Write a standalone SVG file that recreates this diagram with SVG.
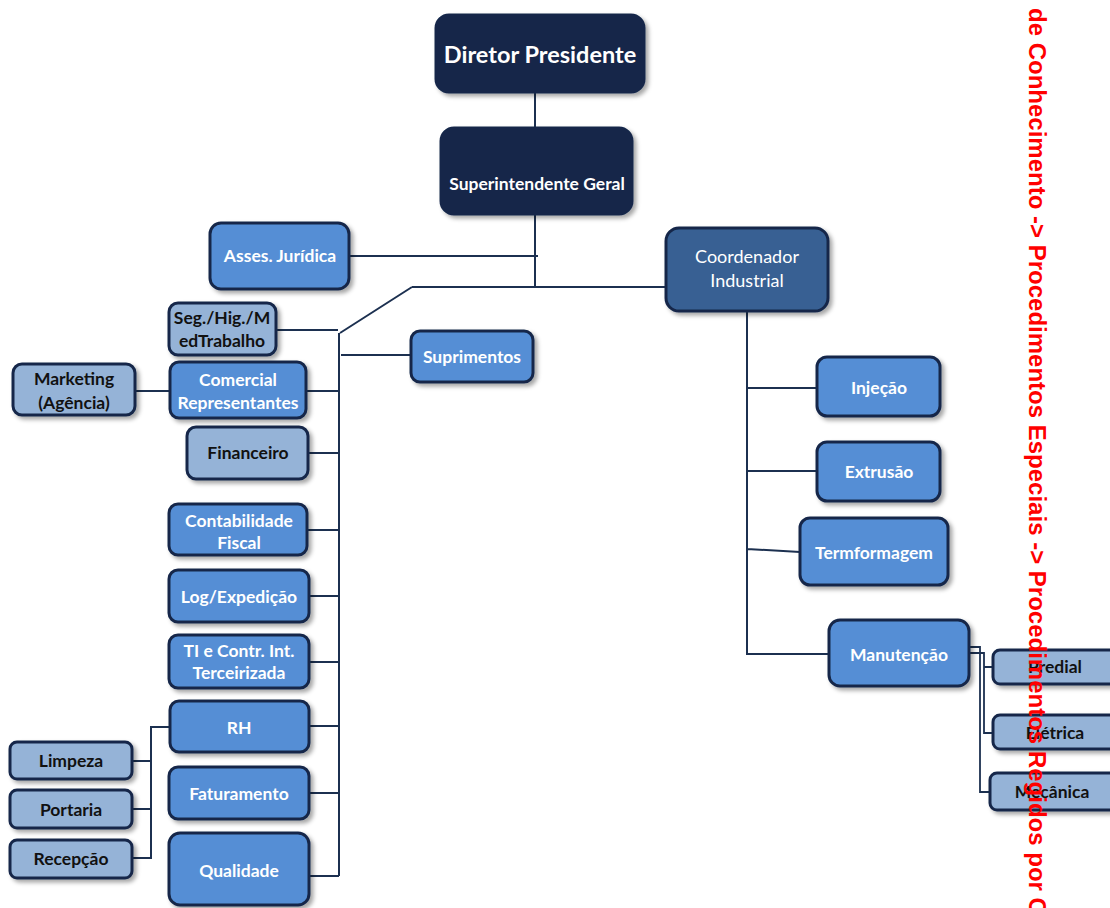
<svg xmlns="http://www.w3.org/2000/svg" width="1110" height="908" viewBox="0 0 1110 908">
<defs>
<filter id="sh" x="-20%" y="-20%" width="140%" height="150%">
<feDropShadow dx="3" dy="3" stdDeviation="2" flood-color="#000" flood-opacity="0.35"/>
</filter>
<style>
.box{stroke:#14284a;stroke-width:3;filter:url(#sh)}
.dark{fill:#14284a;stroke:#14284a}
.coord{fill:#386193}
.mid{fill:#558ed5}
.light{fill:#95b3d7}
text{font-family:Lato,"Open Sans","Liberation Sans",sans-serif;font-weight:bold;text-anchor:middle}
.w{fill:#ffffff}
.k{fill:#111111}
.f15{font-size:17.5px}
.con{fill:none;stroke:#1c3050;stroke-width:2}
.red{font-family:"Liberation Sans",Arial,sans-serif;font-weight:bold;font-size:24px;fill:#ff0000;text-anchor:start}
</style>
</defs>
<rect width="1110" height="908" fill="#ffffff"/>

<g id="connectors">
<path class="con" d="M535 92V128M535 214V287M349 256H538M412 287H666M412 287L340 333M339 333V876"/>
<path class="con" d="M276 330H338M341 355H411M306 391H339M135 391H170M308 453H339M307 530H339M309 596H339M309 662H339M309 726H339M309 793H339M309 876H339"/>
<path class="con" d="M170 727H151V858H132M132 761H151M132 809H151"/>
<path class="con" d="M747 311V654H829M747 388H817M747 471H817M747 549L800 552"/>
<path class="con" d="M969 647H980V792H990M969 653H984V733H993M984 667H993" style="stroke-width:1.8"/>
</g>

<g id="diretor"><rect class="box dark" x="436" y="15" width="208" height="77" rx="13"/><text class="w" x="540" y="63" style="font-size:23.5px">Diretor Presidente</text></g>
<g id="superintendente"><rect class="box dark" x="441" y="128" width="191" height="86" rx="13"/><text class="w" x="537" y="190" style="font-size:17.5px">Superintendente Geral</text></g>
<g id="assesjuridica"><rect class="box mid" x="210" y="223" width="139" height="66" rx="11"/><text class="w f15" x="280" y="262">Asses. Jurídica</text></g>
<g id="coordenador"><rect class="box coord" x="666" y="228" width="162" height="83" rx="13"/><text class="w" x="747" y="263" style="font-size:18px;font-weight:normal">Coordenador</text><text class="w" x="747" y="287" style="font-size:18px;font-weight:normal">Industrial</text></g>
<g id="seg"><rect class="box light" x="169" y="303" width="107" height="52" rx="9"/><text class="k f15" x="222" y="324">Seg./Hig./M</text><text class="k f15" x="222" y="347">edTrabalho</text></g>
<g id="suprimentos"><rect class="box mid" x="411" y="331" width="122" height="51" rx="9"/><text class="w f15" x="472" y="363">Suprimentos</text></g>
<g id="marketing"><rect class="box light" x="13" y="364" width="122" height="51" rx="9"/><text class="k f15" x="74" y="385">Marketing</text><text class="k f15" x="74" y="409">(Agência)</text></g>
<g id="comercial"><rect class="box mid" x="170" y="362" width="136" height="56" rx="9"/><text class="w f15" x="238" y="386">Comercial</text><text class="w f15" x="238" y="409">Representantes</text></g>
<g id="financeiro"><rect class="box light" x="187" y="427" width="121" height="52" rx="9"/><text class="k f15" x="248" y="459">Financeiro</text></g>
<g id="contabilidade"><rect class="box mid" x="169" y="504" width="138" height="51" rx="9"/><text class="w f15" x="239" y="527">Contabilidade</text><text class="w f15" x="239" y="549">Fiscal</text></g>
<g id="log"><rect class="box mid" x="169" y="570" width="140" height="52" rx="9"/><text class="w f15" x="239" y="603">Log/Expedição</text></g>
<g id="ti"><rect class="box mid" x="169" y="635" width="140" height="53" rx="9"/><text class="w f15" x="239" y="657">TI e Contr. Int.</text><text class="w f15" x="239" y="679">Terceirizada</text></g>
<g id="rh"><rect class="box mid" x="170" y="701" width="139" height="51" rx="9"/><text class="w f15" x="239" y="734">RH</text></g>
<g id="faturamento"><rect class="box mid" x="169" y="767" width="140" height="52" rx="9"/><text class="w f15" x="239" y="800">Faturamento</text></g>
<g id="qualidade"><rect class="box mid" x="169" y="833" width="140" height="72" rx="11"/><text class="w f15" x="239" y="877">Qualidade</text></g>
<g id="limpeza"><rect class="box light" x="10" y="742" width="122" height="37" rx="7"/><text class="k f15" x="71" y="767">Limpeza</text></g>
<g id="portaria"><rect class="box light" x="10" y="790" width="122" height="38" rx="7"/><text class="k f15" x="71" y="816">Portaria</text></g>
<g id="recepcao"><rect class="box light" x="10" y="840" width="122" height="38" rx="7"/><text class="k f15" x="71" y="865">Recepção</text></g>
<g id="injecao"><rect class="box mid" x="817" y="357" width="123" height="59" rx="10"/><text class="w f15" x="879" y="394">Injeção</text></g>
<g id="extrusao"><rect class="box mid" x="817" y="442" width="123" height="59" rx="10"/><text class="w f15" x="879" y="478">Extrusão</text></g>
<g id="termformagem"><rect class="box mid" x="800" y="518" width="148" height="67" rx="10"/><text class="w f15" x="874" y="559">Termformagem</text></g>
<g id="manutencao"><rect class="box mid" x="829" y="620" width="140" height="66" rx="11"/><text class="w f15" x="899" y="661">Manutenção</text></g>
<g id="predial"><rect class="box light" x="993" y="650" width="125" height="34" rx="7"/><text class="k f15" x="1055" y="673">Predial</text></g>
<g id="eletrica"><rect class="box light" x="993" y="715" width="125" height="34" rx="7"/><text class="k f15" x="1055" y="739">Elétrica</text></g>
<g id="mecanica"><rect class="box light" x="990" y="773" width="128" height="37" rx="7"/><text class="k f15" x="1052" y="798">Mecânica</text></g>

<text class="red" transform="translate(1029,8) rotate(90)">de Conhecimento -&gt; Procedimentos Especiais -&gt; Procedimentos Regidos por C</text>
</svg>
